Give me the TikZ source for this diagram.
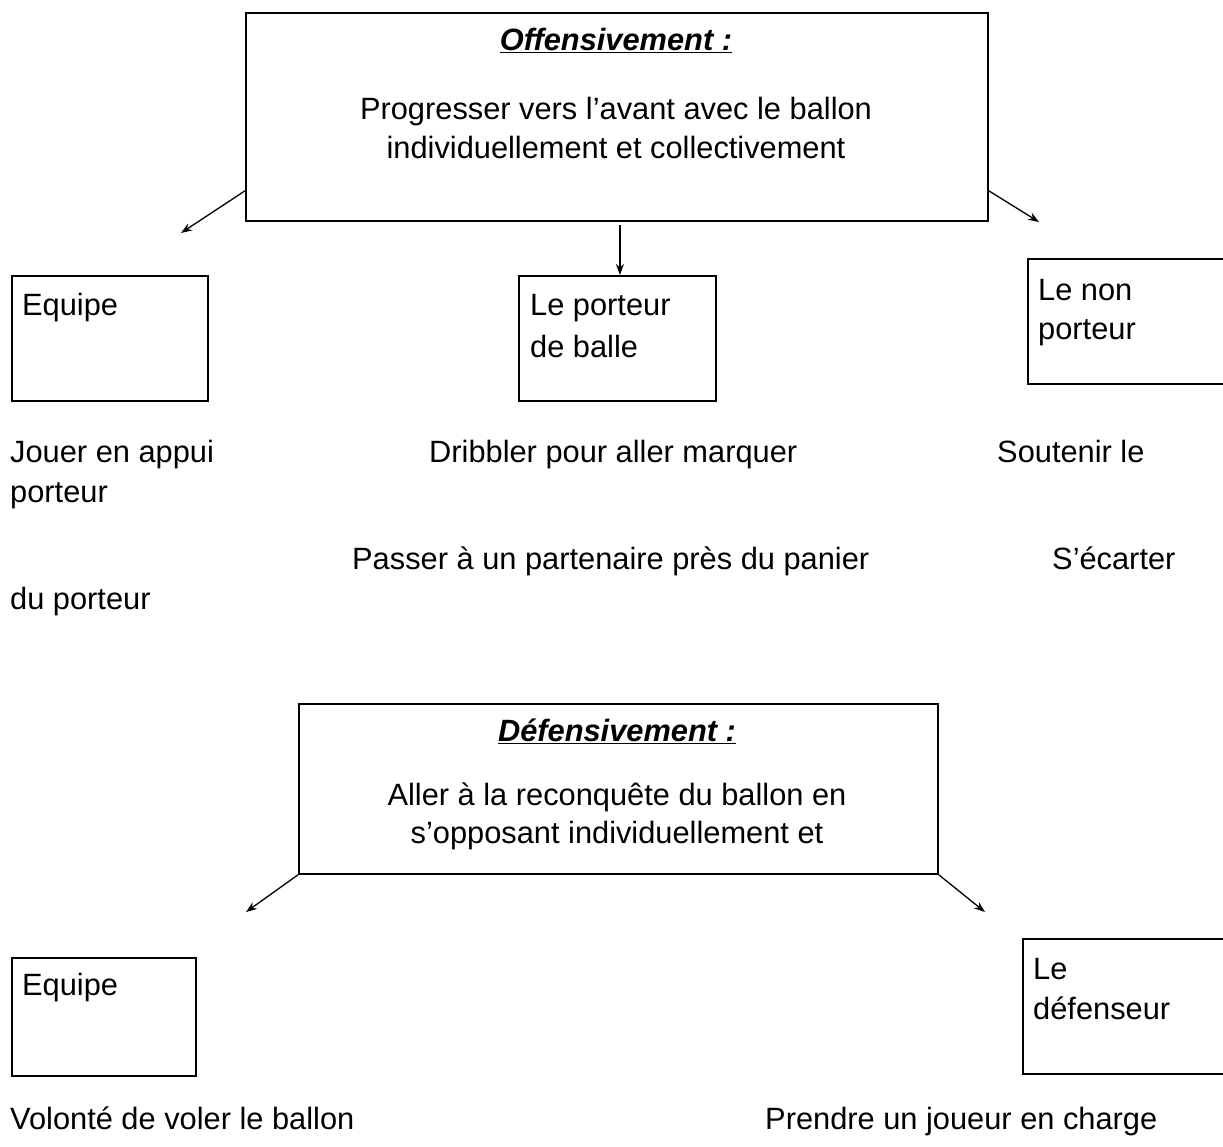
\documentclass[tikz,border=0pt]{standalone}
\usepackage{fontspec}
\setmainfont{Liberation Sans}
\usetikzlibrary{arrows.meta}
\begin{document}
\begin{tikzpicture}[x=1pt,y=-1pt,
  box/.style={draw,line width=1.8pt,rectangle,inner sep=0pt,anchor=north west},
  txt/.style={inner sep=0pt,anchor=base west,font=\fontsize{30.8}{40}\selectfont},
  ctxt/.style={inner sep=0pt,anchor=base,font=\fontsize{30.8}{40}\selectfont},
  arr/.style={line width=1.3pt,-{Stealth[length=11pt,width=8pt]}}]
\useasboundingbox[fill=white] (0,0) rectangle (1223,1146);
% top box
\node[box,minimum width=742pt,minimum height=208pt] (off) at (245,12) {};
\node[ctxt] (offh) at (616,50) {\textbf{\textit{\underline{Offensivement :}}}};
\node[ctxt] (offa) at (616,119) {Progresser vers l’avant avec le ballon};
\node[ctxt] (offb) at (616,158) {individuellement et collectivement};
% second row boxes
\node[box,minimum width=196pt,minimum height=125pt] (eq1) at (11,275) {};
\node[txt] (eq1t) at (22,315) {Equipe};
\node[box,minimum width=197pt,minimum height=125pt] (pb) at (518,275) {};
\node[txt] (pbt1) at (530,315) {Le porteur};
\node[txt] (pbt2) at (530,357) {de balle};
\node[box,minimum width=196pt,minimum height=125pt] (np) at (1027,258) {};
\node[txt] (npt1) at (1038,300) {Le non};
\node[txt] (npt2) at (1038,339) {porteur};
% arrows top
\coordinate (a1) at (181,233);
\coordinate (a3) at (1039,222);
\coordinate (ms) at ([xshift=3pt,yshift=-3pt]off.south);
\draw[arr] ([yshift=31pt]off.south west) -- (a1);
\draw[arr] ([yshift=31pt]off.south east) -- (a3);
\draw[arr] (ms) -- (ms |- pb.north);
% texts
\node[txt] (t1) at (10,462) {Jouer en appui};
\node[txt] (t2) at (429,462) {Dribbler pour aller marquer};
\node[txt] (t3) at (997,462) {Soutenir le};
\node[txt] (t4) at (10,502) {porteur};
\node[txt] (t5) at (352,569) {Passer à un partenaire près du panier};
\node[txt] (t6) at (1052,569) {S’écarter};
\node[txt] (t7) at (10,609) {du porteur};
% bottom box
\node[box,minimum width=639pt,minimum height=170pt] (def) at (298,703) {};
\node[ctxt] (defh) at (617,741) {\textbf{\textit{\underline{Défensivement :}}}};
\node[ctxt] (defa) at (617,805) {Aller à la reconquête du ballon en};
\node[ctxt] (defb) at (617,843) {s’opposant individuellement et};
\coordinate (b1) at (246,912);
\coordinate (b2) at (985,912);
\draw[arr] (def.south west) -- (b1);
\draw[arr] (def.south east) -- (b2);
\node[box,minimum width=184pt,minimum height=118pt] (eq2) at (11,957) {};
\node[txt] (eq2t) at (22,995) {Equipe};
\node[box,minimum width=201pt,minimum height=135pt] (dfs) at (1022,938) {};
\node[txt] (dfst1) at (1033,979) {Le};
\node[txt] (dfst2) at (1033,1019) {défenseur};
\node[txt] (t8) at (10,1129) {Volonté de voler le ballon};
\node[txt] (t9) at (765,1129) {Prendre un joueur en charge};
\end{tikzpicture}
\end{document}
